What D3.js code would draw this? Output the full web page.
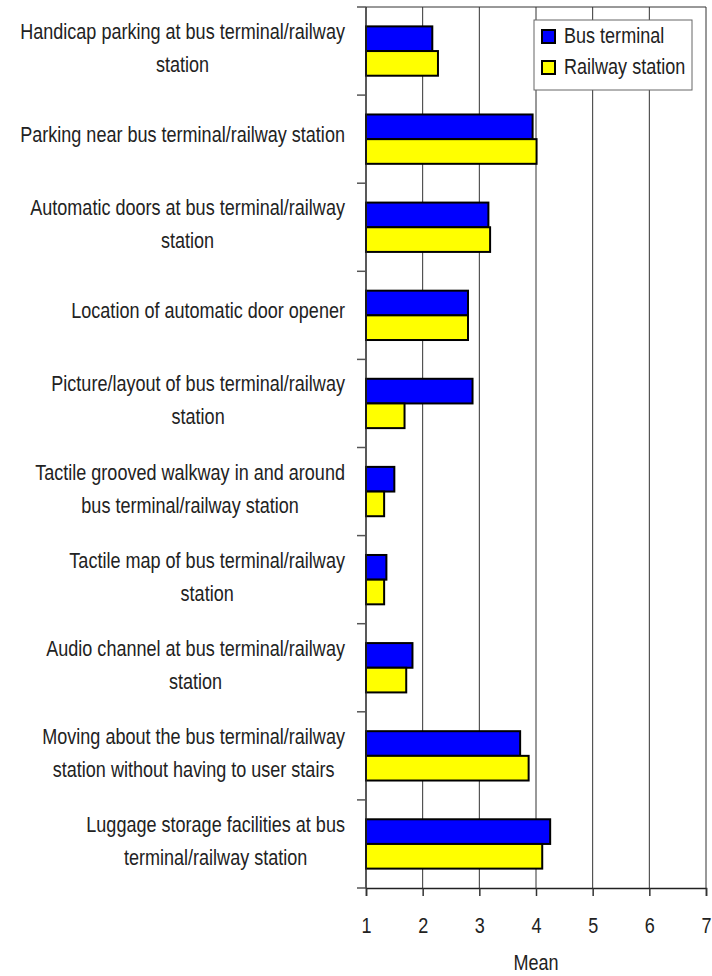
<!DOCTYPE html>
<html>
<head>
<meta charset="utf-8">
<script src="https://cdn.jsdelivr.net/npm/d3@7"></script>
<style>
  body { margin: 0; background: #fff; }
  text { font-family: "Liberation Sans", Arial, sans-serif; fill: #222; }
</style>
</head>
<body>
<div id="viz"></div>
<script>
// chart data
var categories = [
  ["Handicap parking at bus terminal/railway", "station"],
  ["Parking near bus terminal/railway station"],
  ["Automatic doors at bus terminal/railway", "station"],
  ["Location of automatic door opener"],
  ["Picture/layout of bus terminal/railway", "station"],
  ["Tactile grooved walkway in and around", "bus terminal/railway station"],
  ["Tactile map of bus terminal/railway", "station"],
  ["Audio channel at bus terminal/railway", "station"],
  ["Moving about the bus terminal/railway", "station without having to user stairs"],
  ["Luggage storage facilities at bus", "terminal/railway station"]
];
var seriesNames = ["Bus terminal", "Railway station"];
var seriesColors = ["#0000ff", "#ffff00"];
var busValues = [2.17, 3.94, 3.16, 2.80, 2.88, 1.50, 1.36, 1.82, 3.72, 4.25];
var railValues = [2.27, 4.01, 3.19, 2.80, 1.68, 1.32, 1.32, 1.71, 3.87, 4.11];
var xTicks = [1, 2, 3, 4, 5, 6, 7];
var xLabel = "Mean";

var width = 712, height = 976;
var plotLeft = 366, plotRight = 706, plotTop = 7, plotBottom = 888;
var squeeze = 0.82; // the original font is a narrow face

var svg = d3.select('#viz').append('svg')
  .attr('width', width)
  .attr('height', height);

// place a horizontally squeezed text at (x, y)
function narrowText(parent, x, y, str, anchor) {
  return parent.append('text')
    .attr('transform', 'translate(' + x + ',' + y + ') scale(' + squeeze + ',1)')
    .attr('font-size', '22px')
    .attr('text-anchor', anchor || 'start')
    .text(str);
}

var x = d3.scaleLinear().domain([1, 7]).range([plotLeft, plotRight]);
var y = d3.scaleBand()
  .domain(d3.range(categories.length))
  .range([plotTop, plotBottom])
  .paddingInner(0.44)
  .paddingOuter(0.22);
var step = y.step();
var ySub = d3.scaleBand().domain([0, 1]).range([0, y.bandwidth()]);

// grid lines
svg.append('g').selectAll('line')
  .data(xTicks.slice(1))
  .enter().append('line')
  .attr('x1', function (d) { return x(d); })
  .attr('x2', function (d) { return x(d); })
  .attr('y1', plotTop)
  .attr('y2', plotBottom)
  .attr('stroke', '#333')
  .attr('stroke-width', 1);

// top border
svg.append('line')
  .attr('x1', plotLeft).attr('x2', plotRight)
  .attr('y1', plotTop).attr('y2', plotTop)
  .attr('stroke', '#333');

// bars
var rows = categories.map(function (c, i) { return [busValues[i], railValues[i]]; });
var groups = svg.append('g').selectAll('g')
  .data(rows)
  .enter().append('g')
  .attr('transform', function (d, i) { return 'translate(0,' + y(i) + ')'; });

groups.selectAll('rect')
  .data(function (d) { return d; })
  .enter().append('rect')
  .attr('x', x(1))
  .attr('y', function (d, j) { return ySub(j); })
  .attr('width', function (d) { return x(d) - x(1); })
  .attr('height', ySub.bandwidth())
  .attr('fill', function (d, j) { return seriesColors[j]; })
  .attr('stroke', '#000')
  .attr('stroke-width', 2);

// left axis with ticks between categories
var yEdges = d3.range(categories.length + 1).map(function (i) { return plotTop + i * step; });
svg.append('line')
  .attr('x1', plotLeft).attr('x2', plotLeft)
  .attr('y1', plotTop).attr('y2', plotBottom)
  .attr('stroke', '#222').attr('stroke-width', 1.5);
svg.append('g').selectAll('line')
  .data(yEdges)
  .enter().append('line')
  .attr('x1', plotLeft - 9).attr('x2', plotLeft)
  .attr('y1', function (d) { return d; })
  .attr('y2', function (d) { return d; })
  .attr('stroke', '#555').attr('stroke-width', 1.5);

// bottom axis
var xAxis = svg.append('g')
  .attr('transform', 'translate(0,' + plotBottom + ')')
  .call(d3.axisBottom(x).tickValues(xTicks).tickSize(8).tickPadding(21).tickFormat(d3.format('d')));
xAxis.select('.domain').attr('stroke', '#222').attr('stroke-width', 1.5);
xAxis.selectAll('.tick line').attr('stroke', '#333').attr('stroke-width', 1.5);
xAxis.selectAll('text')
  .attr('font-size', '22px')
  .attr('font-family', '"Liberation Sans", Arial, sans-serif')
  .attr('fill', '#222')
  .attr('transform', 'scale(' + squeeze + ',1)');

narrowText(svg, (plotLeft + plotRight) / 2, 970, xLabel, 'middle');

// category labels: block right-aligned, lines centered
var labelRight = 345;
categories.forEach(function (lines, i) {
  var cy = plotTop + i * step + step / 2;
  var g = svg.append('g');
  var items = lines.map(function (t, k) {
    var baseline = lines.length === 1 ? cy + 3 : cy - 12 + k * 33;
    var el = g.append('text')
      .attr('font-size', '22px')
      .attr('text-anchor', 'middle')
      .text(t);
    return { el: el, y: baseline };
  });
  var maxW = d3.max(items, function (it) { return it.el.node().getComputedTextLength(); }) * squeeze;
  items.forEach(function (it) {
    it.el.attr('transform', 'translate(' + (labelRight - maxW / 2) + ',' + it.y + ') scale(' + squeeze + ',1)');
  });
});

// legend
var legend = svg.append('g').attr('transform', 'translate(534,20)');
legend.append('rect')
  .attr('width', 158).attr('height', 70)
  .attr('fill', '#fff')
  .attr('stroke', '#666').attr('stroke-width', 1);
seriesNames.forEach(function (name, j) {
  legend.append('rect')
    .attr('x', 8).attr('y', 10 + j * 31)
    .attr('width', 13).attr('height', 13)
    .attr('fill', seriesColors[j])
    .attr('stroke', '#000').attr('stroke-width', 2);
  narrowText(legend, 30, 23 + j * 31, name);
});
</script>
</body>
</html>
